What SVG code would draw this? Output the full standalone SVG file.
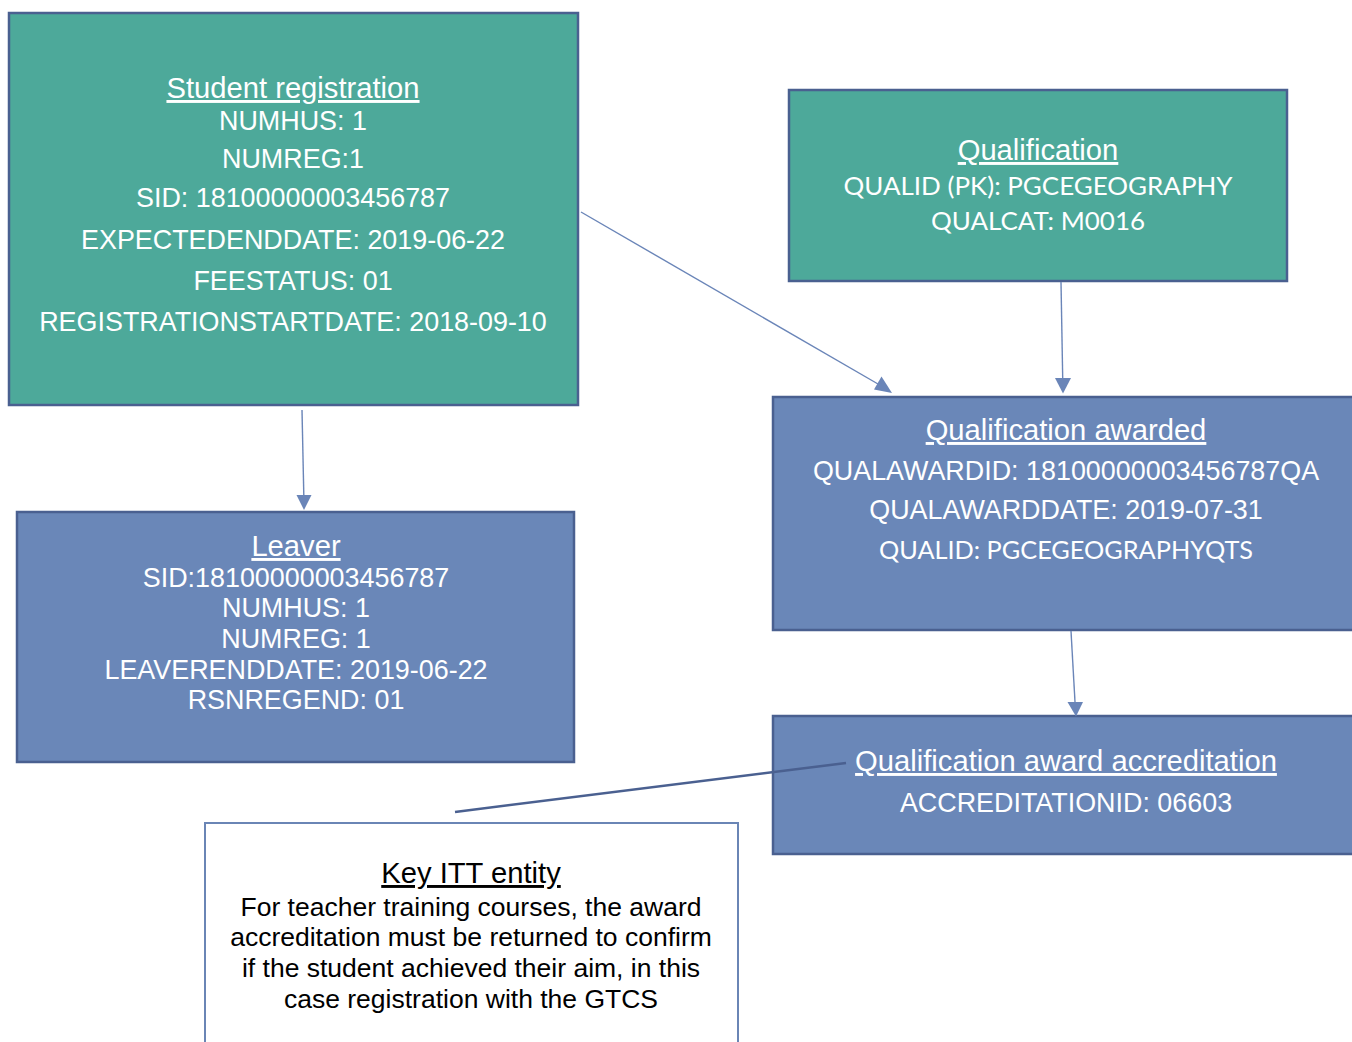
<svg xmlns="http://www.w3.org/2000/svg" width="1352" height="1042" viewBox="0 0 1352 1042">
<style>
.teal{fill:#4da99a;stroke:#4a6090;stroke-width:2.5}
.blue{fill:#6a87b8;stroke:#4a6090;stroke-width:2.5}
.note{fill:#ffffff;stroke:#6a85b5;stroke-width:2}
text{font-family:"Liberation Sans",Arial,sans-serif;text-anchor:middle;fill:#ffffff;font-size:26.9px}
.t{font-size:29.2px;text-decoration:underline}
.c{font-family:Lato,"Open Sans",sans-serif;font-size:25px}
.k{fill:#000000;font-size:26.5px}
.kt{fill:#000000;font-size:29.2px;text-decoration:underline}
.conn{stroke:#6a85b8;stroke-width:1.4;fill:none}
.thick{stroke:#4a6090;stroke-width:2.5;fill:none}
.head{fill:#6a85b8}
</style>
<g id="student-registration">
<rect class="teal" x="9" y="13" width="569" height="392"/>
<text class="t" x="293" y="98">Student registration</text>
<text x="293" y="130">NUMHUS: 1</text>
<text x="293" y="168">NUMREG:1</text>
<text x="293" y="207">SID: 18100000003456787</text>
<text x="293" y="249">EXPECTEDENDDATE: 2019-06-22</text>
<text x="293" y="290">FEESTATUS: 01</text>
<text x="293" y="331">REGISTRATIONSTARTDATE: 2018-09-10</text>
</g>
<g id="qualification">
<rect class="teal" x="789" y="90" width="498" height="191"/>
<text class="t" x="1038" y="160">Qualification</text>
<text class="c" x="1038" y="195" textLength="389" lengthAdjust="spacingAndGlyphs">QUALID (PK): PGCEGEOGRAPHY</text>
<text class="c" x="1038" y="230" textLength="214" lengthAdjust="spacingAndGlyphs">QUALCAT: M0016</text>
</g>
<g id="leaver">
<rect class="blue" x="17" y="512" width="557" height="250"/>
<text class="t" x="296" y="556">Leaver</text>
<text x="296" y="587">SID:18100000003456787</text>
<text x="296" y="617">NUMHUS: 1</text>
<text x="296" y="648">NUMREG: 1</text>
<text x="296" y="679">LEAVERENDDATE: 2019-06-22</text>
<text x="296" y="709">RSNREGEND: 01</text>
</g>
<g id="qualification-awarded">
<rect class="blue" x="773" y="397" width="590" height="233"/>
<text class="t" x="1066" y="440">Qualification awarded</text>
<text x="1066" y="480">QUALAWARDID: 18100000003456787QA</text>
<text x="1066" y="519">QUALAWARDDATE: 2019-07-31</text>
<text class="c" x="1066" y="559" textLength="374" lengthAdjust="spacingAndGlyphs">QUALID: PGCEGEOGRAPHYQTS</text>
</g>
<g id="qualification-award-accreditation">
<rect class="blue" x="773" y="716" width="590" height="138"/>
<text class="t" x="1066" y="771">Qualification award accreditation</text>
<text x="1066" y="812">ACCREDITATIONID: 06603</text>
</g>
<g id="key-itt-entity">
<rect class="note" x="205" y="823" width="533" height="240"/>
<text class="kt" x="471" y="883">Key ITT entity</text>
<text class="k" x="471" y="916">For teacher training courses, the award</text>
<text class="k" x="471" y="946">accreditation must be returned to confirm</text>
<text class="k" x="471" y="977">if the student achieved their aim, in this</text>
<text class="k" x="471" y="1008">case registration with the GTCS</text>
</g>
<g id="connectors">
<path class="conn" d="M302,410 L303.8,495"/>
<path class="head" d="M296.5,495 L311.5,495 L304,510 Z"/>
<path class="conn" d="M581,212 L878,384"/>
<path class="head" d="M874,389.5 L881.5,376.5 L892,393 Z"/>
<path class="conn" d="M1061,282 L1062.7,378"/>
<path class="head" d="M1055,378 L1071,378 L1063,393.5 Z"/>
<path class="conn" d="M1071,631 L1075,702"/>
<path class="head" d="M1067.5,702 L1083,702 L1076,716.5 Z"/>
<path class="thick" d="M455,812 L846,763"/>
</g>
</svg>
